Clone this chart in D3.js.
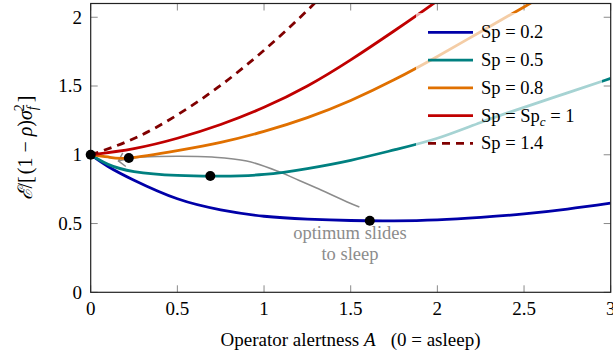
<!DOCTYPE html>
<html>
<head>
<meta charset="utf-8">
<script src="https://cdn.jsdelivr.net/npm/d3@7"></script>
<style>
  body { margin: 0; background: #fff; }
</style>
</head>
<body>
<div id="chart"></div>
<script>
// values
const xTicks = [0, 0.5, 1, 1.5, 2, 2.5, 3];
const yTicks = [0, 0.5, 1, 1.5, 2];

const alertGrid = [0, 0.1, 0.25, 0.5, 0.75, 1, 1.25, 1.5, 1.75, 2, 2.25, 2.5, 2.75, 3];
const sp02 = [1, 0.915, 0.815, 0.68, 0.6, 0.553, 0.532, 0.522, 0.52, 0.527, 0.545, 0.57, 0.605, 0.648];
const sp05 = [1, 0.93, 0.878, 0.85, 0.845, 0.857, 0.9, 0.96, 1.035, 1.12, 1.235, 1.345, 1.45, 1.555];

const orangeA = [0, 0.1, 0.22, 0.5, 0.75, 1, 1.25, 1.5, 1.75, 2, 2.25, 2.5, 2.75];
const sp08 = [1, 0.984, 0.976, 1.03, 1.09, 1.17, 1.27, 1.395, 1.545, 1.715, 1.895, 2.075, 2.26];

const redA = [0, 0.25, 0.5, 0.75, 1, 1.25, 1.5, 1.75, 2, 2.25];
const sp10 = [1, 1.045, 1.12, 1.22, 1.345, 1.5, 1.69, 1.9, 2.12, 2.36];

const dashA = [0, 0.25, 0.5, 0.75, 1, 1.25, 1.5];
const sp14 = [1, 1.118, 1.29, 1.505, 1.76, 2.05, 2.37];

// grey annotation path (drawn from the Sp=0.2 optimum back toward A=0)
const pathA = [1.55, 1.48, 1.3, 1.2, 1.09, 0.9, 0.7, 0.5, 0.3, 0.227, 0.16];
const pathE = [0.62, 0.657, 0.76, 0.815, 0.875, 0.955, 0.984, 0.99, 0.983, 0.972, 0.955];

// optimum markers
const optA = [0, 0.22, 0.69, 1.61];
const optE = [1, 0.976, 0.846, 0.52];

const seriesNames = ["Sp = 0.2", "Sp = 0.5", "Sp = 0.8", "Sp = Sp_c = 1", "Sp = 1.4"];
const seriesColors = ["#0000a8", "#008080", "#e07000", "#c00000", "#800000"];

const series = [
  {name: seriesNames[0], color: seriesColors[0], dash: null, pts: alertGrid.map((a, i) => [a, sp02[i]])},
  {name: seriesNames[1], color: seriesColors[1], dash: null, pts: alertGrid.map((a, i) => [a, sp05[i]])},
  {name: seriesNames[2], color: seriesColors[2], dash: null, pts: orangeA.map((a, i) => [a, sp08[i]])},
  {name: seriesNames[3], color: seriesColors[3], dash: null, pts: redA.map((a, i) => [a, sp10[i]])},
  {name: seriesNames[4], color: seriesColors[4], dash: "8,6", pts: dashA.map((a, i) => [a, sp14[i]])}
];

const FONT = "Liberation Serif";
const width = 613, height = 358;
const svg = d3.select("#chart").append("svg")
  .attr("width", width)
  .attr("height", height);

const x = d3.scaleLinear().domain([0, 3]).range([90.7, 610.7]);
const y = d3.scaleLinear().domain([0, 2.1]).range([292.3, 3.5]);

svg.append("defs").append("clipPath").attr("id", "plotClip")
  .append("rect")
  .attr("x", x(0)).attr("y", y(2.1))
  .attr("width", x(3) - x(0)).attr("height", y(0) - y(2.1));

svg.select("defs").append("marker")
  .attr("id", "arrow")
  .attr("markerUnits", "userSpaceOnUse")
  .attr("viewBox", "-10 -10 20 20")
  .attr("markerWidth", 20).attr("markerHeight", 20)
  .attr("refX", 0).attr("refY", 0)
  .attr("orient", "auto")
  .append("path")
  .attr("d", "M-6,-7L0,0L-6,7")
  .attr("fill", "none")
  .attr("stroke", "#8c8c8c")
  .attr("stroke-width", 1.5);

// ticks (inward, mirrored on all sides)
const tickLen = 7;
const axes = svg.append("g").attr("stroke", "#8a8a8a").attr("stroke-width", 1);
xTicks.forEach(t => {
  axes.append("line").attr("x1", x(t)).attr("x2", x(t)).attr("y1", y(0)).attr("y2", y(0) - tickLen);
  axes.append("line").attr("x1", x(t)).attr("x2", x(t)).attr("y1", y(2.1)).attr("y2", y(2.1) + tickLen);
});
yTicks.forEach(t => {
  axes.append("line").attr("x1", x(0)).attr("x2", x(0) + tickLen).attr("y1", y(t)).attr("y2", y(t));
  axes.append("line").attr("x1", x(3)).attr("x2", x(3) - tickLen).attr("y1", y(t)).attr("y2", y(t));
});

// curves
const line = d3.line()
  .x(d => x(d[0]))
  .y(d => y(d[1]))
  .curve(d3.curveCatmullRom.alpha(0.5));

const curves = svg.append("g").attr("clip-path", "url(#plotClip)");

curves.append("path")
  .datum(pathA.map((a, i) => [a, pathE[i]]))
  .attr("d", line)
  .attr("fill", "none")
  .attr("stroke", "#8c8c8c")
  .attr("stroke-width", 1.5)
  .attr("marker-end", "url(#arrow)");

line.curve(d3.curveNatural);

curves.selectAll(".curve")
  .data(series)
  .enter().append("path")
  .attr("class", "curve")
  .attr("d", d => line(d.pts))
  .attr("fill", "none")
  .attr("stroke", d => d.color)
  .attr("stroke-width", 2.8)
  .attr("stroke-dasharray", d => d.dash);

// frame
svg.append("rect")
  .attr("x", x(0)).attr("y", y(2.1))
  .attr("width", x(3) - x(0)).attr("height", y(0) - y(2.1))
  .attr("fill", "none")
  .attr("stroke", "#222")
  .attr("stroke-width", 1.2);

// optimum dots
svg.append("g").selectAll("circle")
  .data(optA.map((a, i) => [a, optE[i]]))
  .enter().append("circle")
  .attr("cx", d => x(d[0]))
  .attr("cy", d => y(d[1]))
  .attr("r", 5)
  .attr("fill", "#000");

// tick labels
svg.append("g").selectAll("text")
  .data(xTicks)
  .enter().append("text")
  .attr("font-family", FONT)
  .attr("x", d => x(d))
  .attr("y", 315)
  .attr("text-anchor", "middle")
  .attr("font-size", 19)
  .text(d => d3.format("")(d));

svg.append("g").selectAll("text")
  .data(yTicks)
  .enter().append("text")
  .attr("font-family", FONT)
  .attr("x", 82)
  .attr("y", d => y(d))
  .attr("dy", "0.33em")
  .attr("text-anchor", "end")
  .attr("font-size", 19)
  .text(d => d3.format("")(d));

// axis labels
const xl = svg.append("text")
  .attr("font-family", FONT)
  .attr("x", 350.5)
  .attr("y", 346)
  .attr("text-anchor", "middle")
  .attr("font-size", 19);
xl.append("tspan").text("Operator alertness ");
xl.append("tspan").attr("font-style", "italic").text("A");
xl.append("tspan").attr("dx", 15).text("(0 = asleep)");

const yl = svg.append("text")
  .attr("font-family", FONT)
  .attr("transform", "translate(32,148) rotate(-90)")
  .attr("text-anchor", "middle")
  .attr("font-size", 20);
yl.append("tspan").attr("font-style", "italic").text("ℰ");
yl.append("tspan").text("/[");
yl.append("tspan").attr("dx", 2).text("(1 − ");
yl.append("tspan").attr("font-style", "italic").text("ρ");
yl.append("tspan").text(")");
yl.append("tspan").attr("font-style", "italic").text("σ");
yl.append("tspan").attr("font-style", "italic").attr("font-size", 14).attr("dy", 5).text("f");
yl.append("tspan").attr("font-size", 14).attr("dx", -5).attr("dy", -13).text("2");
yl.append("tspan").attr("dy", 8).attr("dx", 2).text("]");

// annotation
const note = svg.append("text")
  .attr("font-family", FONT)
  .attr("text-anchor", "middle")
  .attr("font-size", 18.5)
  .attr("fill", "#8c8c8c");
note.append("tspan").attr("x", 350).attr("y", 239).text("optimum slides");
note.append("tspan").attr("x", 350).attr("y", 260).text("to sleep");

// legend
const legend = svg.append("g");
legend.append("rect")
  .attr("x", 416).attr("y", 13)
  .attr("width", 186).attr("height", 147)
  .attr("fill", "#fff")
  .attr("fill-opacity", 0.65);

const rows = legend.selectAll(".row")
  .data(series)
  .enter().append("g")
  .attr("class", "row")
  .attr("transform", (d, i) => "translate(0," + (32.3 + i * 27.75) + ")");

rows.append("line")
  .attr("x1", 428).attr("x2", 473)
  .attr("stroke", d => d.color)
  .attr("stroke-width", 2.8)
  .attr("stroke-dasharray", d => d.dash);

rows.each(function (d) {
  const t = d3.select(this).append("text")
    .attr("font-family", FONT)
    .attr("x", 481)
    .attr("dy", "0.33em")
    .attr("font-size", 18.5);
  if (d.name.includes("_c")) {
    t.append("tspan").text("Sp = Sp");
    t.append("tspan").attr("font-style", "italic").attr("font-size", 13).attr("dy", 4).text("c");
    t.append("tspan").attr("dy", -4).text(" = 1");
  } else {
    t.text(d.name);
  }
});
</script>
</body>
</html>
